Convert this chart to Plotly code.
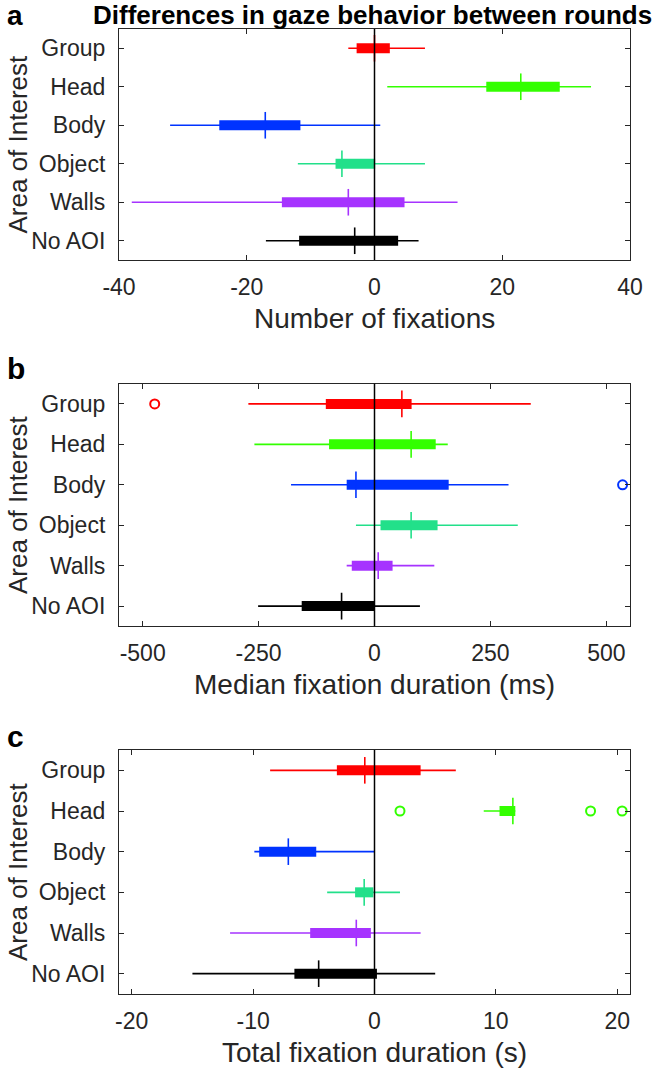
import plotly.graph_objects as go

W, H = 652, 1070

categories = ["Group", "Head", "Body", "Object", "Walls", "No AOI"]
colors = ["#ff0000", "#33ff00", "#0033ff", "#22e08a", "#a633ff", "#000000"]

# Panel a: Number of fixations
a_lo = [-4.1, 2.0, -32.0, -12.0, -38.0, -17.0]
a_q1 = [-2.8, 17.5, -24.3, -6.1, -14.5, -11.8]
a_med = [0.0, 22.9, -17.1, -5.1, -4.1, -3.1]
a_q3 = [2.4, 29.0, -11.6, 0.1, 4.7, 3.7]
a_hi = [7.9, 33.9, 0.9, 7.9, 13.0, 6.9]
a_out_cat = []
a_out_val = []
a_ticks = [-40, -20, 0, 20, 40]

# Panel b: Median fixation duration (ms)
b_lo = [-272, -259, -180, -40, -60, -251]
b_q1 = [-105, -98, -60, 13, -49, -157]
b_med = [59, 79, -40, 79, 8, -71]
b_q3 = [80, 132, 160, 136, 39, 0]
b_hi = [337, 158, 289, 309, 129, 98]
b_out_cat = ["Group", "Body"]
b_out_val = [-474, 535]
b_ticks = [-500, -250, 0, 250, 500]

# Panel c: Total fixation duration (s)
c_lo = [-8.6, 9.0, -9.9, -3.9, -11.9, -15.0]
c_q1 = [-3.1, 10.3, -9.5, -1.6, -5.3, -6.6]
c_med = [-0.8, 11.4, -7.1, -0.85, -1.5, -4.6]
c_q3 = [3.8, 11.6, -4.8, -0.1, -0.3, 0.2]
c_hi = [6.7, 11.6, 0.0, 2.1, 3.8, 5.0]
c_out_cat = ["Head", "Head", "Head"]
c_out_val = [2.1, 17.8, 20.4]
c_ticks = [-20, -10, 0, 10, 20]

x_titles = ["Number of fixations", "Median fixation duration (ms)", "Total fixation duration (s)"]
panel_letters = ["a", "b", "c"]
title_text = "Differences in gaze behavior between rounds"
y_title = "Area of Interest"

FONT = "Liberation Sans, Arial, Helvetica, sans-serif"
AX = "#262626"

# layout in pixels
PX_L, PX_R = 119, 630
panels_px = [(29, 260), (383.7, 626.3), (750, 994)]
xranges = [[-40, 40], [-551, 551], [-21.05, 21.05]]

def px_x(p):
    return p / W

def px_y(p):
    return 1 - p / H

fig = go.Figure()

panels = [
    (a_lo, a_q1, a_med, a_q3, a_hi, a_out_cat, a_out_val, a_ticks),
    (b_lo, b_q1, b_med, b_q3, b_hi, b_out_cat, b_out_val, b_ticks),
    (c_lo, c_q1, c_med, c_q3, c_hi, c_out_cat, c_out_val, c_ticks),
]

annotations = []
shapes = []
for pi, (lo, q1, med, q3, hi, oc, ov, ticks) in enumerate(panels):
    xa = "x" if pi == 0 else f"x{pi+1}"
    ya = "y" if pi == 0 else f"y{pi+1}"
    for ci, cat in enumerate(categories):
        col = colors[ci]
        # whisker
        fig.add_trace(go.Scatter(x=[lo[ci], hi[ci]], y=[cat, cat], mode="lines",
                                 line=dict(color=col, width=1.6), xaxis=xa, yaxis=ya,
                                 showlegend=False, hoverinfo="skip"))
        # box
        fig.add_trace(go.Scatter(x=[q1[ci], q3[ci]], y=[cat, cat], mode="lines",
                                 line=dict(color=col, width=10), xaxis=xa, yaxis=ya,
                                 showlegend=False, hoverinfo="skip"))
        # median
        fig.add_trace(go.Scatter(x=[med[ci]], y=[cat], mode="markers",
                                 marker=dict(symbol="line-ns-open", size=19, color=col,
                                             line=dict(color=col, width=1.6)),
                                 xaxis=xa, yaxis=ya, showlegend=False, hoverinfo="skip"))
    # outliers
    for cat, v in zip(oc, ov):
        col = colors[categories.index(cat)]
        fig.add_trace(go.Scatter(x=[v], y=[cat], mode="markers",
                                 marker=dict(symbol="circle-open", size=9, color=col,
                                             line=dict(color=col, width=2)),
                                 xaxis=xa, yaxis=ya, showlegend=False, hoverinfo="skip",
                                 cliponaxis=False))
    top, bot = panels_px[pi]
    xkey = "xaxis" if pi == 0 else f"xaxis{pi+1}"
    ykey = "yaxis" if pi == 0 else f"yaxis{pi+1}"
    fig.update_layout(**{
        xkey: dict(domain=[px_x(PX_L), px_x(PX_R)], anchor=ya, range=xranges[pi],
                   tickvals=ticks, ticktext=[str(t) for t in ticks],
                   ticks="inside", ticklen=5, tickwidth=1, tickcolor=AX,
                   showline=True, linecolor=AX, linewidth=1.2, mirror="ticks",
                   showgrid=False, zeroline=False, automargin=False,
                   tickfont=dict(family=FONT, size=23, color=AX), ticklabelstandoff=6),
        ykey: dict(domain=[px_y(bot), px_y(top)], anchor=xa, type="category",
                   categoryorder="array", categoryarray=categories, range=[5.5, -0.5],
                   ticks="inside", ticklen=5, tickwidth=1, tickcolor=AX,
                   showline=True, linecolor=AX, linewidth=1.2, mirror="ticks",
                   showgrid=False, zeroline=False, automargin=False,
                   tickfont=dict(family=FONT, size=23, color=AX), ticklabelstandoff=8),
    })
    # zero line
    shapes.append(dict(type="line", xref=xa, yref=f"{ya} domain", x0=0, x1=0, y0=0, y1=1,
                       line=dict(color="#000000", width=1.5), layer="above"))
    # x title
    annotations.append(dict(text=x_titles[pi], xref="paper", yref="paper",
                            x=px_x((PX_L + PX_R) / 2), y=px_y(bot + 58),
                            xanchor="center", yanchor="middle", showarrow=False,
                            font=dict(family=FONT, size=28, color=AX)))
    # y title
    annotations.append(dict(text=y_title, xref="paper", yref="paper",
                            x=px_x(1), y=px_y((top + bot) / 2), textangle=-90,
                            xanchor="left", yanchor="middle", showarrow=False,
                            font=dict(family=FONT, size=26, color=AX)))
    # panel letter
    if pi == 0:
        annotations.append(dict(text=f"<b>{panel_letters[pi]}</b>", xref="paper", yref="paper",
                                x=px_x(5), y=px_y(-2), xanchor="left", yanchor="top",
                                showarrow=False, font=dict(family=FONT, size=28, color="#000000")))
    else:
        letter_y = [12, 368, 736][pi]
        annotations.append(dict(text=f"<b>{panel_letters[pi]}</b>", xref="paper", yref="paper",
                                x=px_x(5), y=px_y(letter_y), xanchor="left", yanchor="middle",
                                showarrow=False, font=dict(family=FONT, size=30, color="#000000")))

annotations.append(dict(text=f"<b>{title_text}</b>", xref="paper", yref="paper",
                        x=px_x(372.5), y=px_y(-2), xanchor="center", yanchor="top",
                        showarrow=False, font=dict(family=FONT, size=26, color="#000000")))

fig.update_layout(width=W, height=H, margin=dict(l=0, r=0, t=0, b=0, autoexpand=False),
                  paper_bgcolor="white", plot_bgcolor="white",
                  annotations=annotations, shapes=shapes, showlegend=False)

fig.write_html("out.html", config={"displayModeBar": False},
               post_script="document.body.style.margin='0';document.body.style.padding='0';")
